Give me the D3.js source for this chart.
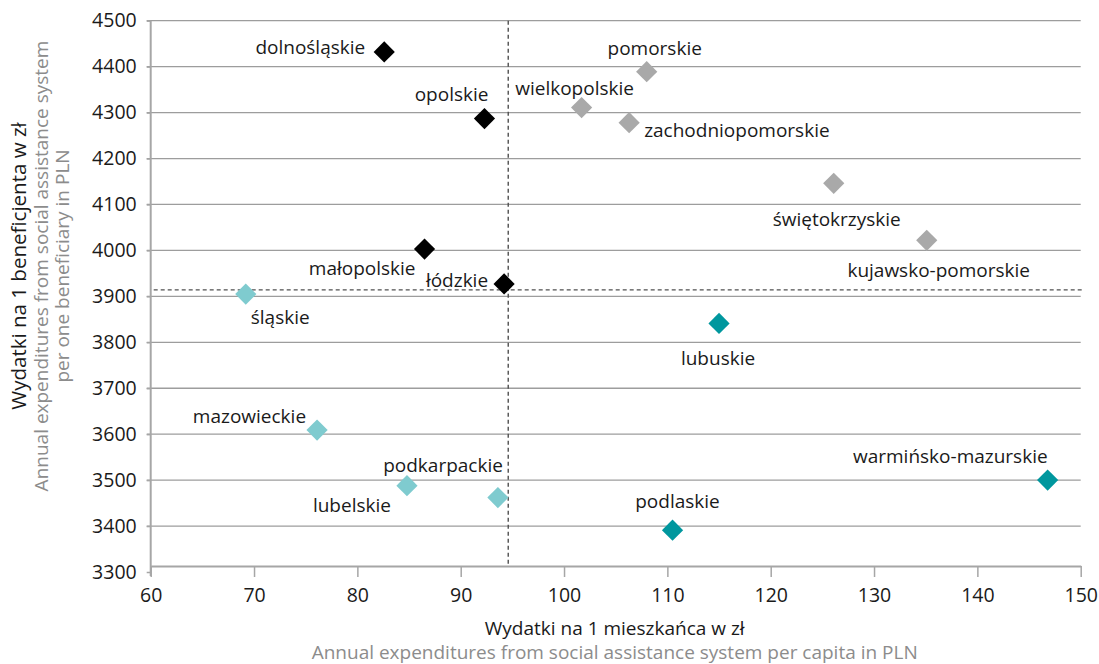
<!DOCTYPE html>
<html>
<head>
<meta charset="utf-8">
<title></title>
<style type="text/css">
    body { margin: 0; background: #fff; }
    svg { font-family: "Open Sans", sans-serif; }
    .tick text { font-size: 19.5px; fill: #1a1a1a; }
    .lbl { font-size: 19px; fill: #1a1a1a; }
</style>
</head>
<body>
<svg id="svg" width="1099" height="664"></svg>

<script src="https://cdn.jsdelivr.net/npm/d3@7/dist/d3.min.js"></script>
<script type="text/javascript">
    // wydatki na 1 mieszkanca (x) i na 1 beneficjenta (y)
    var blackNames = ['dolnośląskie', 'opolskie', 'małopolskie', 'łódzkie'];
    var blackX = [82.6, 92.3, 86.5, 94.2];
    var blackY = [4432, 4287, 4003, 3927];

    var greyNames = ['pomorskie', 'wielkopolskie', 'zachodniopomorskie', 'świętokrzyskie', 'kujawsko-pomorskie'];
    var greyX = [108.0, 101.7, 106.3, 126.1, 135.1];
    var greyY = [4389, 4311, 4278, 4146, 4022];

    var lightNames = ['śląskie', 'mazowieckie', 'lubelskie', 'podkarpackie'];
    var lightX = [69.2, 76.1, 84.8, 93.6];
    var lightY = [3905, 3609, 3488, 3462];

    var tealNames = ['lubuskie', 'podlaskie', 'warmińsko-mazurskie'];
    var tealX = [115.0, 110.5, 146.8];
    var tealY = [3841, 3391, 3500];

    var avgX = 94.6;   // srednia na mieszkanca
    var avgY = 3914;   // srednia na beneficjenta

    var xTicks = [60, 70, 80, 90, 100, 110, 120, 130, 140, 150];
    var yTicks = [3300, 3400, 3500, 3600, 3700, 3800, 3900, 4000, 4100, 4200, 4300, 4400, 4500];

    // polozenie etykiet wzgledem punktu: dx, dy, kotwica
    var labelPos = {
        'dolnośląskie': [-19, 2, 'end'],
        'opolskie': [4, -18, 'end'],
        'małopolskie': [-9, 26, 'end'],
        'łódzkie': [-16, 3, 'end'],
        'pomorskie': [8, -17, 'middle'],
        'wielkopolskie': [-7, -13, 'middle'],
        'zachodniopomorskie': [15, 14, 'start'],
        'świętokrzyskie': [3, 43, 'middle'],
        'kujawsko-pomorskie': [12, 37, 'middle'],
        'śląskie': [5, 30, 'start'],
        'mazowieckie': [-11, -7, 'end'],
        'lubelskie': [-16, 26, 'end'],
        'podkarpackie': [5, -26, 'end'],
        'lubuskie': [-1, 42, 'middle'],
        'podlaskie': [5, -22, 'middle'],
        'warmińsko-mazurskie': [0, -17, 'end']
    };

    var groups = [
        {names: blackNames, xs: blackX, ys: blackY, color: '#000000'},
        {names: greyNames, xs: greyX, ys: greyY, color: '#a9a9a9'},
        {names: lightNames, xs: lightX, ys: lightY, color: '#7fcbcf'},
        {names: tealNames, xs: tealX, ys: tealY, color: '#00979e'}
    ];

    var pLeft = 150.7, pRight = 1080.7, pTop = 20.7, pBottom = 572;
    var svg = d3.select('#svg');

    var x = d3.scaleLinear().domain([60, 150]).range([pLeft, pRight]);
    var y = d3.scaleLinear().domain([3300, 4500]).range([pBottom, pTop]);

    // linie siatki
    svg.append('g')
        .selectAll('line')
        .data(yTicks.slice(1))
        .enter()
        .append('line')
        .attr('x1', pLeft - 4)
        .attr('x2', pRight)
        .attr('y1', (d) => y(d))
        .attr('y2', (d) => y(d))
        .attr('stroke', '#9d9d9d')
        .attr('stroke-width', 1.3);

    // os Y
    var yAxis = svg.append('g')
        .attr('transform', 'translate(' + pLeft + ',0)')
        .call(d3.axisLeft(y).tickValues(yTicks).tickFormat(d3.format('d')).tickSize(4).tickPadding(10));
    yAxis.select('.domain').remove();
    yAxis.selectAll('.tick line').attr('stroke', '#a6a6a6').attr('stroke-width', 1.5);
    svg.append('line')
        .attr('x1', pLeft).attr('x2', pLeft)
        .attr('y1', pTop).attr('y2', pBottom + 4)
        .attr('stroke', '#a6a6a6').attr('stroke-width', 2);

    // os X (linia osi troche wyzej, jak w oryginale)
    var axisY = pBottom - 6;
    var xAxis = svg.append('g')
        .attr('transform', 'translate(0,' + axisY + ')')
        .call(d3.axisBottom(x).tickValues(xTicks).tickSize(11).tickSizeOuter(0).tickPadding(11));
    xAxis.select('.domain').attr('stroke', '#a6a6a6').attr('stroke-width', 2);
    xAxis.selectAll('.tick line').attr('stroke', '#a6a6a6').attr('stroke-width', 1.5);
    svg.selectAll('.tick text').style('font-family', '"Open Sans", sans-serif');

    // linie srednich
    svg.append('line')
        .attr('x1', x(avgX)).attr('x2', x(avgX))
        .attr('y1', pTop).attr('y2', axisY)
        .attr('stroke', '#505050').attr('stroke-width', 1.4)
        .attr('stroke-dasharray', '4,3');
    svg.append('line')
        .attr('x1', pLeft + 3).attr('x2', pRight + 3)
        .attr('y1', y(avgY)).attr('y2', y(avgY))
        .attr('stroke', '#505050').attr('stroke-width', 1.4)
        .attr('stroke-dasharray', '4,3');

    // punkty i etykiety
    var diamond = d3.symbol().type(d3.symbolSquare).size(225);
    groups.forEach(function (gr) {
        var pts = gr.names.map((n, i) => ({name: n, vx: gr.xs[i], vy: gr.ys[i]}));
        var g = svg.append('g');
        g.selectAll('path')
            .data(pts)
            .enter()
            .append('path')
            .attr('d', diamond)
            .attr('transform', (d) => 'translate(' + x(d.vx) + ',' + y(d.vy) + ') rotate(45)')
            .attr('fill', gr.color);
        g.selectAll('text')
            .data(pts)
            .enter()
            .append('text')
            .attr('class', 'lbl')
            .attr('x', (d) => x(d.vx) + labelPos[d.name][0])
            .attr('y', (d) => y(d.vy) + labelPos[d.name][1])
            .attr('text-anchor', (d) => labelPos[d.name][2])
            .text((d) => d.name);
    });

    // tytuly osi
    svg.append('text')
        .attr('x', (pLeft + pRight) / 2 - 1).attr('y', 635)
        .attr('text-anchor', 'middle')
        .style('font-size', '19px').attr('fill', '#1a1a1a')
        .text('Wydatki na 1 mieszkańca w zł');
    svg.append('text')
        .attr('x', (pLeft + pRight) / 2 - 1).attr('y', 659)
        .attr('text-anchor', 'middle')
        .style('font-size', '19px').attr('fill', '#8c8c8c')
        .text('Annual expenditures from social assistance system per capita in PLN');

    var yTitles = [
        {t: 'Wydatki na 1 beneficjenta w zł', px: 26, c: '#1a1a1a', fs: '20.5px'},
        {t: 'Annual expenditures from social assistance system', px: 48, c: '#8c8c8c', fs: '19px'},
        {t: 'per one beneficiary in PLN', px: 69, c: '#8c8c8c', fs: '19px'}
    ];
    svg.selectAll('.ytitle')
        .data(yTitles)
        .enter()
        .append('text')
        .attr('class', 'ytitle')
        .attr('transform', (d) => 'translate(' + d.px + ',266) rotate(-90)')
        .attr('text-anchor', 'middle')
        .style('font-size', (d) => d.fs)
        .attr('fill', (d) => d.c)
        .text((d) => d.t);
</script>
</body>
</html>
